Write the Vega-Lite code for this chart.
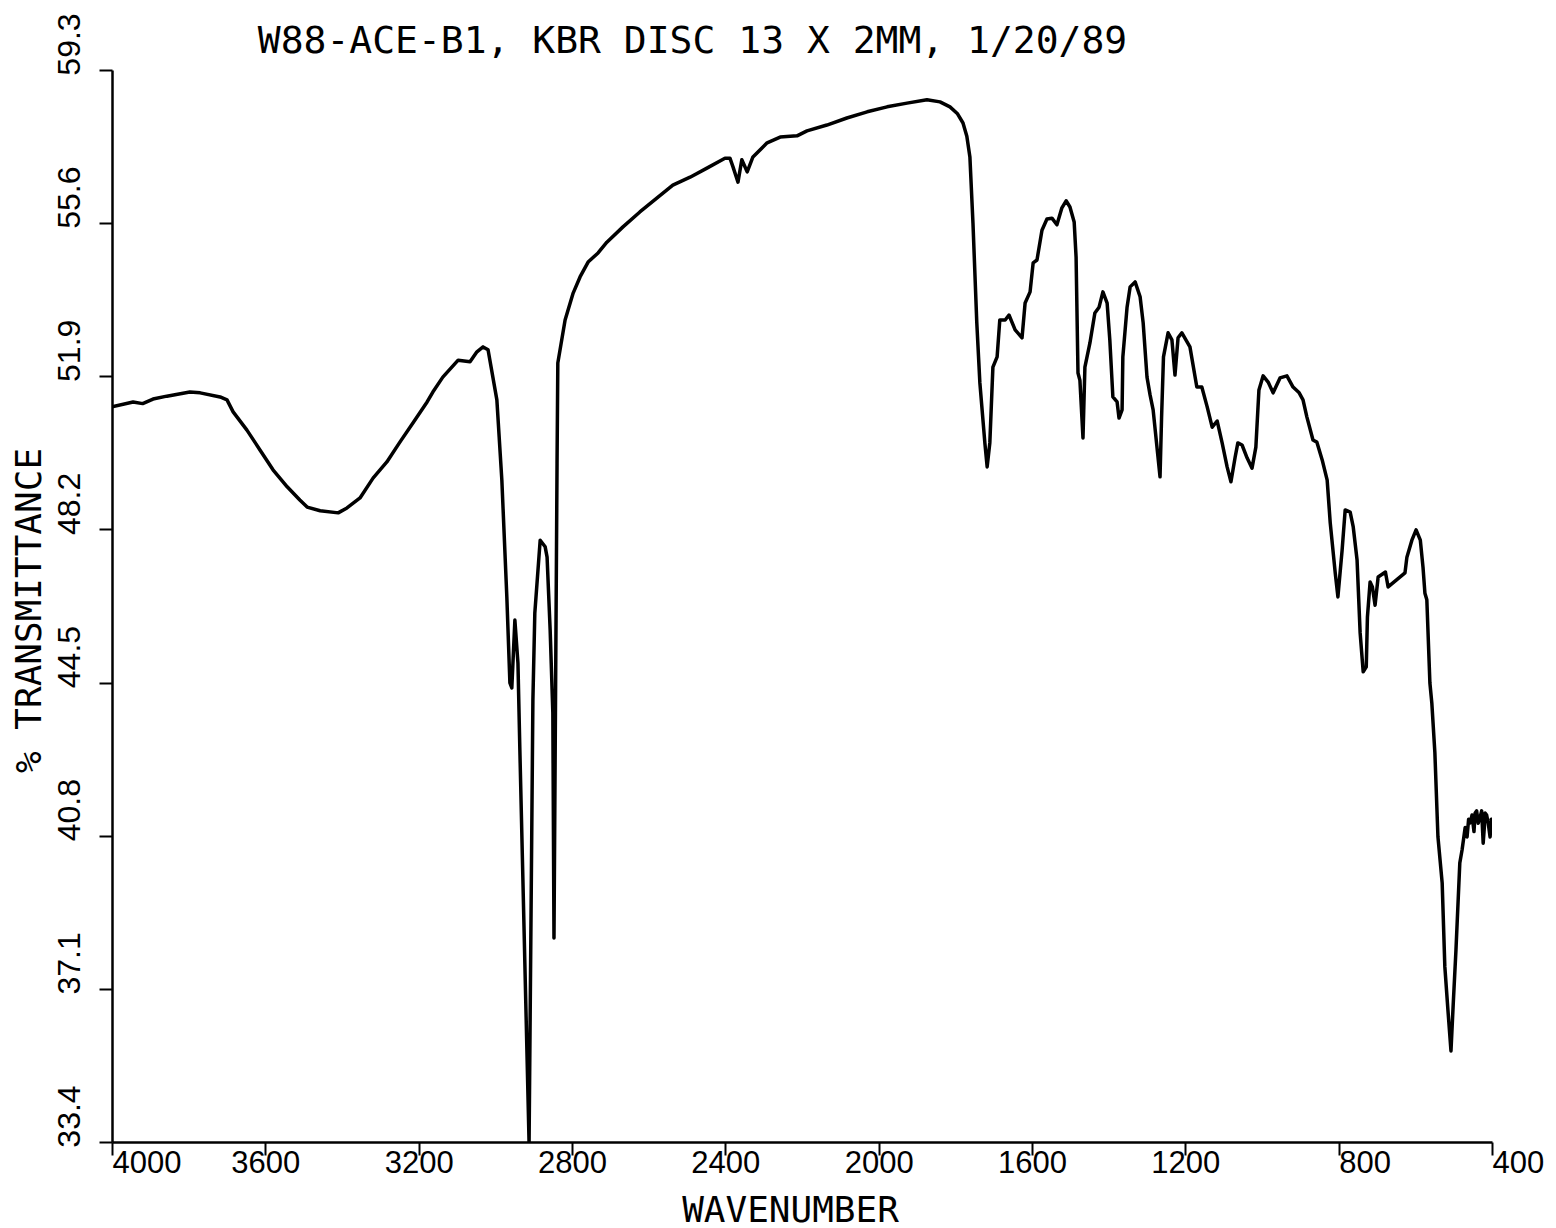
{
  "$schema": "https://vega.github.io/schema/vega-lite/v6.json",
  "width": 1380,
  "height": 1072,
  "autosize": {"type": "none"},
  "padding": {"left": 112, "top": 70, "right": 64, "bottom": 86},
  "background": "white",
  "config": {
    "view": {"stroke": null},
    "axis": {
      "grid": false,
      "domainColor": "black",
      "domainWidth": 2.5,
      "tickColor": "black",
      "tickWidth": 2,
      "tickSize": 13,
      "labelColor": "black",
      "titleColor": "black",
      "labelFont": "Liberation Sans",
      "titleFont": "DejaVu Sans Mono",
      "labelFontSize": 31,
      "titleFontSize": 36,
      "titleFontWeight": "normal",
      "labelOverlap": false,
      "labelFlush": false
    }
  },
  "data": {
    "values": [
      {"w": 4000, "t": 51.16}, {"w": 3945, "t": 51.28}, {"w": 3920, "t": 51.24}, {"w": 3893, "t": 51.35}, {"w": 3857, "t": 51.42},
      {"w": 3797, "t": 51.52}, {"w": 3770, "t": 51.5}, {"w": 3718, "t": 51.4}, {"w": 3700, "t": 51.33}, {"w": 3684, "t": 51.04},
      {"w": 3648, "t": 50.6}, {"w": 3614, "t": 50.12}, {"w": 3580, "t": 49.64}, {"w": 3543, "t": 49.23}, {"w": 3510, "t": 48.91},
      {"w": 3491, "t": 48.74}, {"w": 3457, "t": 48.65}, {"w": 3410, "t": 48.6}, {"w": 3387, "t": 48.72}, {"w": 3353, "t": 48.96},
      {"w": 3319, "t": 49.44}, {"w": 3283, "t": 49.83}, {"w": 3249, "t": 50.31}, {"w": 3215, "t": 50.77}, {"w": 3178, "t": 51.28},
      {"w": 3163, "t": 51.52}, {"w": 3137, "t": 51.88}, {"w": 3097, "t": 52.29}, {"w": 3066, "t": 52.25}, {"w": 3048, "t": 52.49},
      {"w": 3032, "t": 52.61}, {"w": 3019, "t": 52.54}, {"w": 2996, "t": 51.33}, {"w": 2983, "t": 49.39}, {"w": 2970, "t": 46.57},
      {"w": 2962, "t": 44.49}, {"w": 2957, "t": 44.37}, {"w": 2949, "t": 46.01}, {"w": 2941, "t": 44.97}, {"w": 2936, "t": 42.87},
      {"w": 2912, "t": 33.38}, {"w": 2902, "t": 44.08}, {"w": 2897, "t": 46.18}, {"w": 2883, "t": 47.94}, {"w": 2870, "t": 47.78},
      {"w": 2865, "t": 47.53}, {"w": 2857, "t": 45.77}, {"w": 2850, "t": 43.77}, {"w": 2847, "t": 38.33}, {"w": 2839, "t": 49.8},
      {"w": 2837, "t": 52.22}, {"w": 2818, "t": 53.26}, {"w": 2797, "t": 53.91}, {"w": 2779, "t": 54.3}, {"w": 2758, "t": 54.66},
      {"w": 2732, "t": 54.88}, {"w": 2709, "t": 55.14}, {"w": 2667, "t": 55.51}, {"w": 2623, "t": 55.87}, {"w": 2578, "t": 56.21},
      {"w": 2537, "t": 56.52}, {"w": 2492, "t": 56.71}, {"w": 2448, "t": 56.93}, {"w": 2401, "t": 57.17}, {"w": 2388, "t": 57.17},
      {"w": 2380, "t": 56.96}, {"w": 2367, "t": 56.59}, {"w": 2357, "t": 57.13}, {"w": 2343, "t": 56.84}, {"w": 2328, "t": 57.2},
      {"w": 2291, "t": 57.54}, {"w": 2257, "t": 57.68}, {"w": 2213, "t": 57.71}, {"w": 2187, "t": 57.83}, {"w": 2135, "t": 57.97},
      {"w": 2083, "t": 58.14}, {"w": 2030, "t": 58.29}, {"w": 1978, "t": 58.41}, {"w": 1926, "t": 58.5}, {"w": 1874, "t": 58.58},
      {"w": 1840, "t": 58.53}, {"w": 1814, "t": 58.41}, {"w": 1795, "t": 58.25}, {"w": 1780, "t": 58.02}, {"w": 1770, "t": 57.7},
      {"w": 1762, "t": 57.2}, {"w": 1754, "t": 55.6},
      {"w": 1744, "t": 53.19}, {"w": 1736, "t": 51.74}, {"w": 1723, "t": 50.29}, {"w": 1717, "t": 49.71}, {"w": 1710, "t": 50.29},
      {"w": 1702, "t": 52.12}, {"w": 1691, "t": 52.37}, {"w": 1684, "t": 53.26}, {"w": 1670, "t": 53.26}, {"w": 1660, "t": 53.38},
      {"w": 1644, "t": 53.02}, {"w": 1626, "t": 52.83}, {"w": 1618, "t": 53.67}, {"w": 1605, "t": 53.94}, {"w": 1597, "t": 54.64},
      {"w": 1587, "t": 54.71}, {"w": 1574, "t": 55.43}, {"w": 1561, "t": 55.7}, {"w": 1548, "t": 55.72}, {"w": 1535, "t": 55.56},
      {"w": 1522, "t": 55.97}, {"w": 1511, "t": 56.14}, {"w": 1501, "t": 55.99}, {"w": 1490, "t": 55.63}, {"w": 1485, "t": 54.78},
      {"w": 1480, "t": 51.98}, {"w": 1475, "t": 51.8}, {"w": 1467, "t": 50.41}, {"w": 1462, "t": 52.12}, {"w": 1449, "t": 52.7},
      {"w": 1436, "t": 53.43}, {"w": 1425, "t": 53.57}, {"w": 1415, "t": 53.94}, {"w": 1404, "t": 53.67}, {"w": 1397, "t": 52.78},
      {"w": 1389, "t": 51.4}, {"w": 1378, "t": 51.28}, {"w": 1373, "t": 50.89}, {"w": 1365, "t": 51.09}, {"w": 1363, "t": 52.37},
      {"w": 1352, "t": 53.57}, {"w": 1344, "t": 54.06}, {"w": 1331, "t": 54.18}, {"w": 1318, "t": 53.82}, {"w": 1310, "t": 53.19},
      {"w": 1300, "t": 51.88}, {"w": 1292, "t": 51.45}, {"w": 1284, "t": 51.09}, {"w": 1266, "t": 49.47}, {"w": 1262, "t": 50.9},
      {"w": 1257, "t": 52.37}, {"w": 1245, "t": 52.95}, {"w": 1235, "t": 52.78}, {"w": 1227, "t": 51.93}, {"w": 1219, "t": 52.83},
      {"w": 1209, "t": 52.95}, {"w": 1188, "t": 52.61}, {"w": 1170, "t": 51.64}, {"w": 1157, "t": 51.64}, {"w": 1143, "t": 51.16},
      {"w": 1130, "t": 50.67}, {"w": 1117, "t": 50.82}, {"w": 1104, "t": 50.29}, {"w": 1091, "t": 49.71}, {"w": 1081, "t": 49.35},
      {"w": 1070, "t": 49.95}, {"w": 1063, "t": 50.29}, {"w": 1052, "t": 50.24}, {"w": 1039, "t": 49.93}, {"w": 1026, "t": 49.68},
      {"w": 1016, "t": 50.19}, {"w": 1008, "t": 51.57}, {"w": 997, "t": 51.91}, {"w": 984, "t": 51.76}, {"w": 971, "t": 51.5},
      {"w": 953, "t": 51.86}, {"w": 935, "t": 51.91}, {"w": 919, "t": 51.64}, {"w": 903, "t": 51.5}, {"w": 893, "t": 51.33},
      {"w": 883, "t": 50.92}, {"w": 867, "t": 50.36}, {"w": 857, "t": 50.31}, {"w": 843, "t": 49.88}, {"w": 830, "t": 49.39},
      {"w": 822, "t": 48.36}, {"w": 809, "t": 47.15}, {"w": 802, "t": 46.57}, {"w": 791, "t": 47.7}, {"w": 783, "t": 48.67},
      {"w": 770, "t": 48.62}, {"w": 762, "t": 48.26}, {"w": 752, "t": 47.46}, {"w": 744, "t": 45.7}, {"w": 736, "t": 44.76},
      {"w": 728, "t": 44.88}, {"w": 725, "t": 46.08}, {"w": 718, "t": 46.93}, {"w": 712, "t": 46.81}, {"w": 705, "t": 46.37},
      {"w": 697, "t": 47.05}, {"w": 678, "t": 47.17}, {"w": 671, "t": 46.81}, {"w": 627, "t": 47.15}, {"w": 622, "t": 47.53},
      {"w": 609, "t": 47.94}, {"w": 598, "t": 48.19}, {"w": 587, "t": 47.94}, {"w": 580, "t": 47.29}, {"w": 575, "t": 46.66},
      {"w": 570, "t": 46.5}, {"w": 562, "t": 44.49}, {"w": 557, "t": 44.01}, {"w": 549, "t": 42.8}, {"w": 541, "t": 40.77},
      {"w": 530, "t": 39.66}, {"w": 523, "t": 37.63}, {"w": 515, "t": 36.59}, {"w": 507, "t": 35.6}, {"w": 501, "t": 36.76},
      {"w": 494, "t": 38.04}, {"w": 484, "t": 40.14}, {"w": 478, "t": 40.46}, {"w": 470, "t": 41.0}, {"w": 465, "t": 40.77},
      {"w": 461, "t": 41.2}, {"w": 457, "t": 41.11}, {"w": 452, "t": 41.3}, {"w": 447, "t": 40.9}, {"w": 444, "t": 41.35},
      {"w": 440, "t": 41.4}, {"w": 436, "t": 41.1}, {"w": 431, "t": 41.25}, {"w": 427, "t": 41.4}, {"w": 423, "t": 40.62},
      {"w": 420, "t": 41.0}, {"w": 418, "t": 41.35}, {"w": 414, "t": 41.3}, {"w": 410, "t": 41.11}, {"w": 405, "t": 40.77},
      {"w": 402, "t": 41.2}, {"w": 400, "t": 40.94}
    ]
  },
  "encoding": {
    "y": {
      "field": "t",
      "type": "quantitative",
      "scale": {"domain": [33.4, 59.3], "nice": false, "zero": false},
      "axis": {
        "title": "% TRANSMITTANCE",
        "values": [33.4, 37.1, 40.8, 44.5, 48.2, 51.9, 55.6, 59.3],
        "format": ".1f",
        "labelFontSize": 32,
        "labelAngle": 270,
        "labelAlign": "center",
        "labelBaseline": "alphabetic",
        "labelPadding": 20,
        "labelOffset": -26,
        "titleAngle": 270,
        "titleAlign": "center",
        "titleBaseline": "alphabetic",
        "titleX": -72,
        "titleY": 540
      }
    },
    "order": {"field": "w", "sort": "descending"}
  },
  "layer": [
    {
      "mark": {"type": "line", "color": "black", "strokeWidth": 3.5, "clip": true, "strokeJoin": "round"},
      "encoding": {
        "x": {
          "field": "w",
          "type": "quantitative",
          "scale": {"domain": [400, 4000], "reverse": true, "nice": false, "zero": false},
          "axis": {
            "title": "WAVENUMBER",
            "values": [4000, 3600, 3200, 2800, 2400, 2000, 1600, 1200, 800, 400],
            "format": "d",
            "labelPadding": -7,
            "labelAlign": {"condition": {"test": "datum.value <= 800 || datum.value == 4000", "value": "left"}, "value": "center"},
            "titleX": 678,
            "titleY": 79,
            "titleAlign": "center",
            "titleBaseline": "alphabetic"
          }
        }
      }
    },
    {
      "mark": {"type": "line", "opacity": 0, "clip": true},
      "encoding": {
        "x": {
          "field": "w",
          "type": "quantitative",
          "axis": {
            "orient": "top",
            "title": "W88-ACE-B1, KBR DISC 13 X 2MM, 1/20/89",
            "labels": false,
            "ticks": false,
            "domain": false,
            "titleFont": "DejaVu Sans Mono",
            "titleFontSize": 38,
            "titleX": 580,
            "titleY": -18,
            "titleAlign": "center",
            "titleBaseline": "alphabetic"
          }
        }
      }
    }
  ],
  "resolve": {"axis": {"x": "independent"}}
}
